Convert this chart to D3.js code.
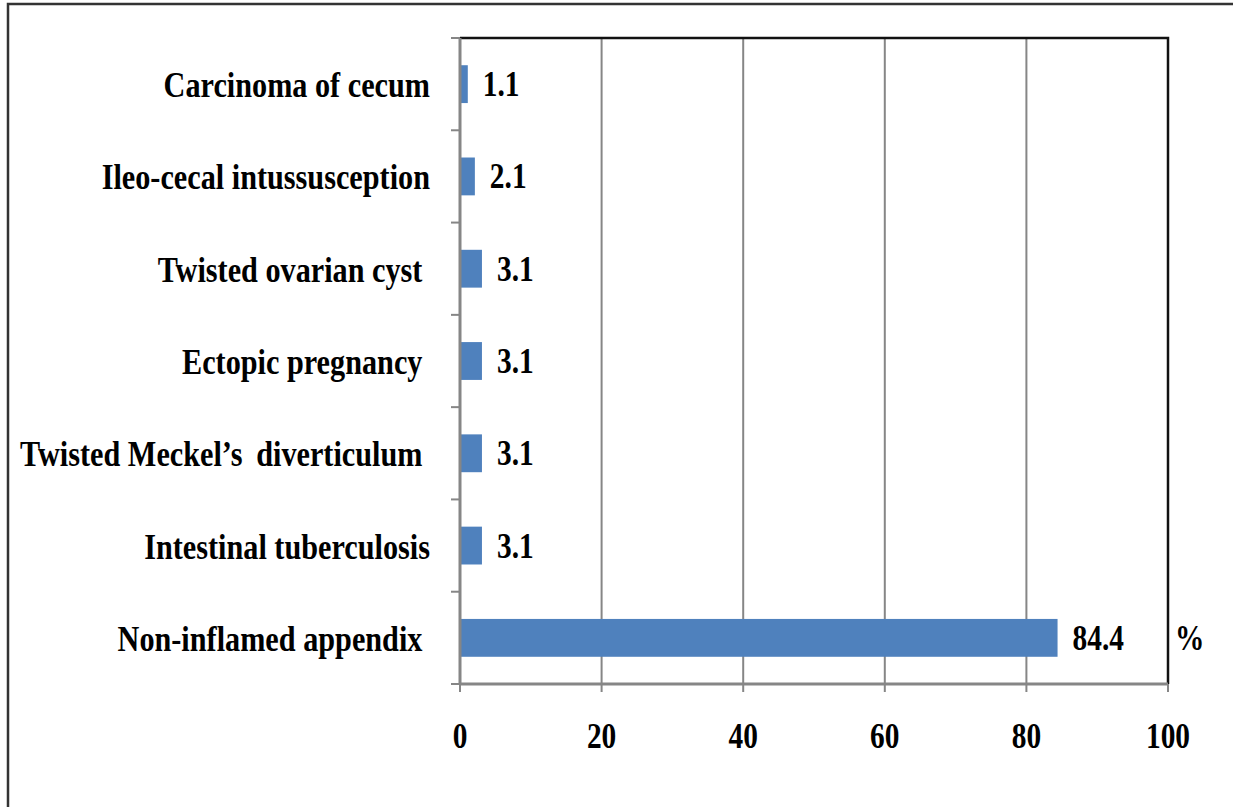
<!DOCTYPE html>
<html>
<head>
<meta charset="utf-8">
<script src="https://cdn.jsdelivr.net/npm/d3@7"></script>
<style>
  body { margin: 0; background: #fff; }
  svg text { font-family: "Liberation Serif", "Times New Roman", serif; font-weight: bold; fill: #000; }
</style>
</head>
<body>
<svg id="chart" width="1233" height="807"></svg>
<script>
// data, top to bottom as in the figure
var categories = [
  "Carcinoma of cecum",
  "Ileo-cecal intussusception",
  "Twisted ovarian cyst\u00a0",
  "Ectopic pregnancy\u00a0",
  "Twisted Meckel\u2019s\u2009 diverticulum\u00a0",
  "Intestinal tuberculosis",
  "Non-inflamed appendix\u00a0"
];
var values = [1.1, 2.1, 3.1, 3.1, 3.1, 3.1, 84.4];
var xTicks = [0, 20, 40, 60, 80, 100];
var unitLabel = "%";

var svg = d3.select("#chart");
var margin = {top: 38, right: 65, bottom: 123, left: 460},
    width = 1233 - margin.left - margin.right,
    height = 807 - margin.top - margin.bottom;
var sx = 0.84; // text looks horizontally squeezed in the source

// outer frame
svg.append("rect")
  .attr("x", 8).attr("y", 4)
  .attr("width", 1300).attr("height", 900)
  .attr("fill", "none").attr("stroke", "#333").attr("stroke-width", 2.5);

var g = svg.append("g").attr("transform", "translate(" + margin.left + "," + margin.top + ")");

var x = d3.scaleLinear().domain([0, 100]).range([0, width]);
var y = d3.scaleBand().domain(categories).range([0, height]).padding(0);
var bw = y.bandwidth();

// gridlines
g.selectAll(".grid").data(xTicks.slice(1, -1)).enter().append("line")
  .attr("x1", function(d) { return x(d); }).attr("x2", function(d) { return x(d); })
  .attr("y1", 0).attr("y2", height)
  .attr("stroke", "#868686").attr("stroke-width", 2);

// top and right border of plot
g.append("path")
  .attr("d", "M0,0H" + x(100) + "V" + height)
  .attr("fill", "none").attr("stroke", "#111").attr("stroke-width", 2.5);

// bars
g.selectAll(".bar").data(values).enter().append("rect")
  .attr("x", x(0))
  .attr("y", function(d, i) { return y(categories[i]) + bw * 0.295; })
  .attr("width", function(d) { return x(d) - x(0); })
  .attr("height", bw * 0.41)
  .attr("fill", "#4f81bd");

// value labels
g.selectAll(".val").data(values).enter().append("g")
  .attr("transform", function(d, i) {
    return "translate(" + (x(d) + 15) + "," + (y(categories[i]) + bw / 2 + 12) + ") scale(" + sx + ",1)";
  })
  .append("text")
  .style("font-size", "35px")
  .text(function(d) { return d.toFixed(1); });

// unit label
g.append("g")
  .attr("transform", "translate(" + (x(100) + 7) + "," + (y(categories[6]) + bw / 2 + 12) + ") scale(" + sx + ",1)")
  .append("text").style("font-size", "35px").text(unitLabel);

// y axis line + ticks at band boundaries
g.append("line")
  .attr("x1", 0).attr("x2", 0).attr("y1", 0).attr("y2", height)
  .attr("stroke", "#868686").attr("stroke-width", 3);
g.selectAll(".ytick").data(d3.range(categories.length + 1)).enter().append("line")
  .attr("x1", -9).attr("x2", 0)
  .attr("y1", function(i) { return i * y.step(); })
  .attr("y2", function(i) { return i * y.step(); })
  .attr("stroke", "#868686").attr("stroke-width", 2);

// category labels
g.selectAll(".cat").data(categories).enter().append("g")
  .attr("transform", function(d) {
    return "translate(-30," + (y(d) + bw / 2 + 13) + ") scale(" + sx + ",1)";
  })
  .append("text")
  .attr("text-anchor", "end")
  .style("font-size", "36px")
  .text(function(d) { return d; });

// x axis
g.append("line")
  .attr("x1", 0).attr("x2", width).attr("y1", height).attr("y2", height)
  .attr("stroke", "#868686").attr("stroke-width", 3);
g.selectAll(".xtick").data(xTicks).enter().append("line")
  .attr("x1", function(d) { return x(d); }).attr("x2", function(d) { return x(d); })
  .attr("y1", height).attr("y2", height + 8)
  .attr("stroke", "#868686").attr("stroke-width", 2);
g.selectAll(".xlab").data(xTicks).enter().append("g")
  .attr("transform", function(d) { return "translate(" + x(d) + "," + (height + 64) + ") scale(" + sx + ",1)"; })
  .append("text")
  .attr("text-anchor", "middle")
  .style("font-size", "35px")
  .text(function(d) { return d; });
</script>
</body>
</html>
